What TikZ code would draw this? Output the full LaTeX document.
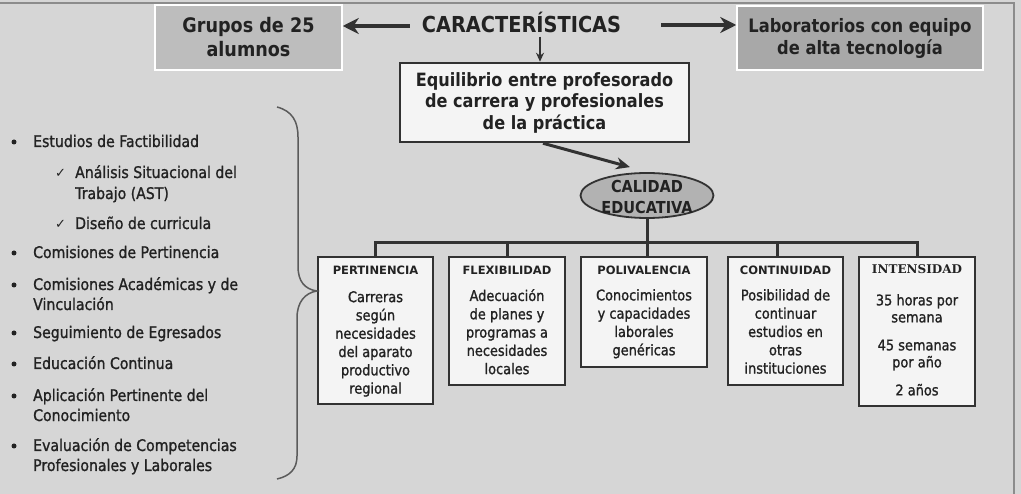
\documentclass[tikz,border=0pt]{standalone}
\usepackage{fontspec}
\setmainfont{DejaVu Sans}[FakeStretch=0.88]
\newfontfamily\medfont{DejaVu Sans}[FakeStretch=0.88, FakeBold=1.2]
\newfontfamily\ttlfont{DejaVu Sans}
\newfontfamily\serfont{DejaVu Serif}
\usetikzlibrary{arrows.meta,shapes.geometric}
\definecolor{bgc}{RGB}{214,214,214}
\definecolor{frm}{RGB}{140,140,140}
\definecolor{grpfill}{RGB}{189,189,189}
\definecolor{labfill}{RGB}{168,168,168}
\definecolor{elfill}{RGB}{178,178,178}
\definecolor{boxfill}{RGB}{244,244,244}
\definecolor{txt}{RGB}{34,34,34}
\definecolor{edge}{RGB}{50,50,50}
\tikzset{
  topbox/.style={rectangle, draw=white, line width=1.5pt, align=center, text=txt,
     font=\bfseries\fontsize{18.5}{22}\selectfont, inner sep=0pt},
  whitebox/.style={rectangle, draw=edge, fill=boxfill, line width=2.5pt, inner sep=0pt},
  cbox/.style={rectangle, draw=edge, fill=boxfill, line width=2.5pt, inner sep=0pt, anchor=north},
  ttl/.style={anchor=north, inner sep=0pt, text=txt, font=\ttlfont\bfseries\fontsize{11.5}{13}\selectfont},
  body/.style={anchor=north, inner sep=0pt, text=txt, align=center, font=\medfont\fontsize{14.7}{18.3}\selectfont},
  bigarrow/.style={draw=edge, line width=4pt, -{Stealth[length=16pt,width=16pt]}},
  conn/.style={draw=edge, line width=3pt},
  item/.style={anchor=base west, inner sep=0pt, text=txt, font=\medfont\fontsize{16}{20}\selectfont},
  bul/.style={circle, fill=txt, inner sep=0pt, minimum size=5pt},
}
\begin{document}
\begin{tikzpicture}[x=1pt,y=-1pt]
\fill[bgc] (0,0) rectangle (1021,494);
\useasboundingbox (0,0) rectangle (1021,494);
\draw[frm, line width=2pt] (0,3) -- (1014,3) -- (1014,494);

% top row
\node[topbox, fill=grpfill, minimum width=187pt, minimum height=65pt,
      font=\bfseries\fontsize{20}{24}\selectfont] (grp) at (248.5,37.5) {Grupos de 25\\alumnos};
\node[inner sep=0pt, text=txt, font=\bfseries\fontsize{22}{26}\selectfont] (car) at (521.5,22) {CARACTERÍSTICAS};
\node[topbox, fill=labfill, minimum width=246pt, minimum height=64pt] (lab) at (860,38) {Laboratorios con equipo\\de alta tecnología};
\draw[bigarrow] ([xshift=-12pt,yshift=-4pt]car.west) -- ([yshift=11.5pt]grp.east);
\draw[bigarrow] ([xshift=40pt,yshift=-3pt]car.east) -- ([yshift=13pt]lab.west);

% equilibrio
\node[whitebox, minimum width=289pt, minimum height=79pt, align=center, text=txt,
      font=\bfseries\fontsize{18.3}{21.5}\selectfont] (eq) at (544.5,102.5) {Equilibrio entre profesorado\\de carrera y profesionales\\de la práctica};
\draw[edge, line width=2pt, -{Stealth[length=9pt,width=8pt]}] ([xshift=18.5pt,yshift=-4pt]car.south) -- ([xshift=-4.5pt]eq.north);

% calidad educativa
\node[ellipse, draw=edge, fill=elfill, line width=1.8pt, minimum width=133pt, minimum height=45pt, inner sep=0pt] (cal) at (647,195.5) {};
\node[inner sep=0pt, align=center, text=txt, font=\bfseries\fontsize{16.5}{21.5}\selectfont] (calt) at (647,197) {CALIDAD\\EDUCATIVA};
\draw[edge, line width=3pt, -{Stealth[length=14pt,width=12pt]}] ([xshift=-1.5pt]eq.south) -- ([xshift=-17pt,yshift=5pt]cal.north);

% boxes
\node[cbox, minimum width=115pt, minimum height=147pt] (pert) at (375.5,256) {};
\node[cbox, minimum width=116pt, minimum height=128pt] (flex) at (507,256) {};
\node[cbox, minimum width=126pt, minimum height=110pt] (poli) at (644,256) {};
\node[cbox, minimum width=115pt, minimum height=128pt] (cont) at (785.5,256) {};
\node[cbox, minimum width=116pt, minimum height=149pt] (inte) at (917,256) {};

\coordinate (bar) at (0,243);
\draw[conn] (pert.north) -- (pert.north |- bar) -- (inte.north |- bar) -- (inte.north);
\draw[conn] (flex.north) -- (flex.north |- bar);
\draw[conn] (cal.south) -- (cal.south |- bar);
\draw[conn] ([xshift=3pt]poli.north) -- ([xshift=3pt]poli.north |- bar);
\draw[conn] ([xshift=-8.5pt]cont.north) -- ([xshift=-8.5pt]cont.north |- bar);

\node[ttl] (pertt) at ([yshift=-10pt]pert.north) {PERTINENCIA};
\node[ttl] (flext) at ([yshift=-10pt]flex.north) {FLEXIBILIDAD};
\node[ttl] (polit) at ([yshift=-10pt]poli.north) {POLIVALENCIA};
\node[ttl] (contt) at ([yshift=-10pt]cont.north) {CONTINUIDAD};
\node[ttl, font=\serfont\bfseries\fontsize{12}{14}\selectfont] (intet) at ([yshift=-8.5pt]inte.north) {INTENSIDAD};

\node[body] (pertb) at ([yshift=-35pt]pert.north) {Carreras\\según\\necesidades\\del aparato\\productivo\\regional};
\node[body] (flexb) at ([yshift=-33pt]flex.north) {Adecuación\\de planes y\\programas a\\necesidades\\locales};
\node[body] (polib) at ([yshift=-33pt]poli.north) {Conocimientos\\y capacidades\\laborales\\genéricas};
\node[body] (contb) at ([yshift=-33pt]cont.north) {Posibilidad de\\continuar\\estudios en\\otras\\instituciones};
\node[body, font=\medfont\fontsize{14.7}{17}\selectfont] (inteb) at ([yshift=-38pt]inte.north) {35 horas por\\semana\\[11pt]45 semanas\\por año\\[11pt]2 años};

% brace
\draw[edge!80, line width=1.5pt] (277,107) .. controls (292,111) and (298,121) .. (298,137) -- (298,266)
   .. controls (298,282) and (305,289) .. (pert.west |- 0,291)
   .. controls (305,293) and (297,302) .. (297,318) -- (297,456)
   .. controls (297,469) and (290,476) .. (277,479);

% list
\node[bul] (b1) at (14,142) {};
\node[item] (i1) at (33,147) {Estudios de Factibilidad};
\node[item, font=\ttlfont\fontsize{13}{16}\selectfont] (c1) at (55,178) {✓};
\node[item] (i1a) at (75,178) {Análisis Situacional del};
\node[item] (i1b) at (75,199) {Trabajo (AST)};
\node[item, font=\ttlfont\fontsize{13}{16}\selectfont] (c2) at (55,229) {✓};
\node[item] (i2) at (75,229) {Diseño de curricula};
\node[bul] (b2) at (14,253) {};
\node[item] (i3) at (33,258) {Comisiones de Pertinencia};
\node[bul] (b3) at (14,285) {};
\node[item] (i4) at (33,290) {Comisiones Académicas y de};
\node[item] (i4b) at (33,310) {Vinculación};
\node[bul] (b4) at (14,333) {};
\node[item] (i5) at (33,338) {Seguimiento de Egresados};
\node[bul] (b5) at (14,364) {};
\node[item] (i6) at (33,369) {Educación Continua};
\node[bul] (b6) at (14,396) {};
\node[item] (i7) at (33,401) {Aplicación Pertinente del};
\node[item] (i7b) at (33,421) {Conocimiento};
\node[bul] (b7) at (14,446) {};
\node[item] (i8) at (33,451) {Evaluación de Competencias};
\node[item] (i8b) at (33,471) {Profesionales y Laborales};
\end{tikzpicture}
\end{document}
